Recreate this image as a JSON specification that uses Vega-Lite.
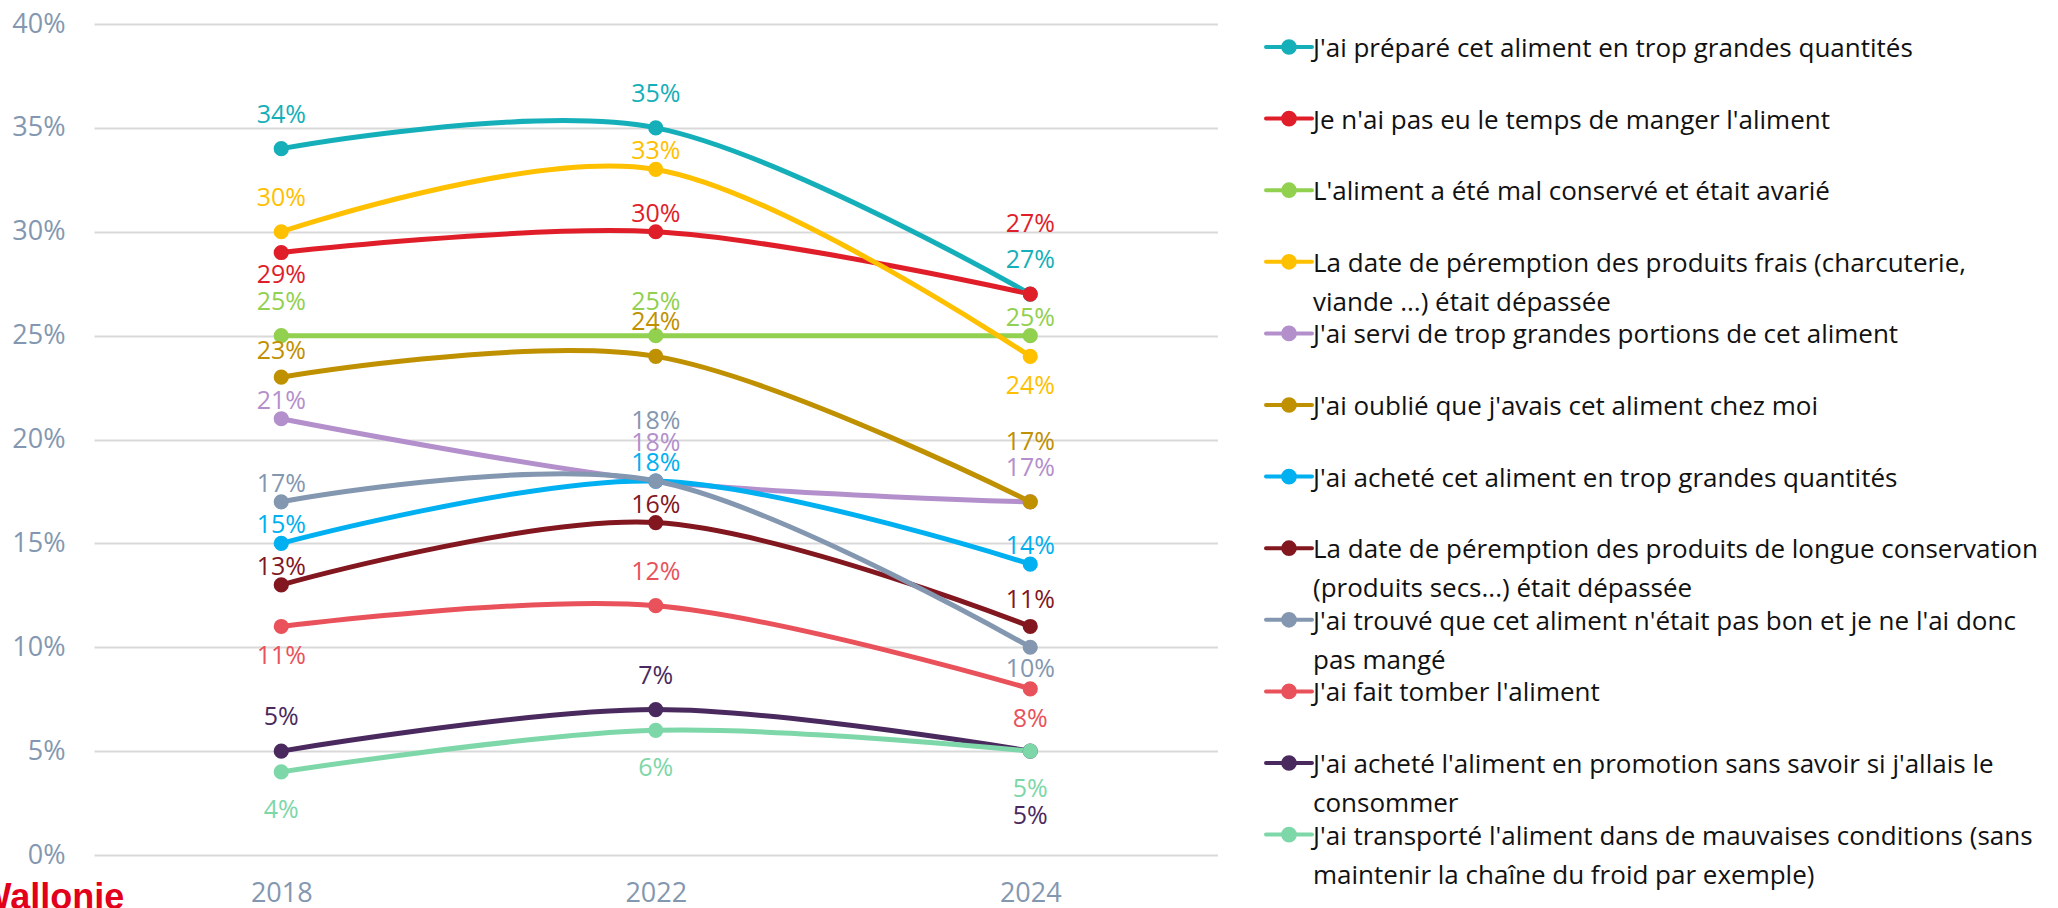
{
  "$schema": "https://vega.github.io/schema/vega-lite/v6.json",
  "width": 1123.5,
  "height": 831,
  "autosize": {"type": "none"},
  "padding": {"left": 94, "top": 24, "right": 840.5, "bottom": 53},
  "config": {
    "view": {"stroke": null},
    "font": "Open Sans",
    "text": {"font": "Open Sans", "fontSize": 25}
  },
  "data": {"values": [
    {"s": "J'ai préparé cet aliment en trop grandes quantités", "id": "a18", "year": "2018", "v": 0.34},
    {"s": "J'ai préparé cet aliment en trop grandes quantités", "id": "a22", "year": "2022", "v": 0.35},
    {"s": "J'ai préparé cet aliment en trop grandes quantités", "id": "a24", "year": "2024", "v": 0.27},
    {"s": "Je n'ai pas eu le temps de manger l'aliment", "id": "b18", "year": "2018", "v": 0.29},
    {"s": "Je n'ai pas eu le temps de manger l'aliment", "id": "b22", "year": "2022", "v": 0.30},
    {"s": "Je n'ai pas eu le temps de manger l'aliment", "id": "b24", "year": "2024", "v": 0.27},
    {"s": "L'aliment a été mal conservé et était avarié", "id": "c18", "year": "2018", "v": 0.25},
    {"s": "L'aliment a été mal conservé et était avarié", "id": "c22", "year": "2022", "v": 0.25},
    {"s": "L'aliment a été mal conservé et était avarié", "id": "c24", "year": "2024", "v": 0.25},
    {"s": "La date de péremption des produits frais (charcuterie, viande ...) était dépassée", "id": "d18", "year": "2018", "v": 0.30},
    {"s": "La date de péremption des produits frais (charcuterie, viande ...) était dépassée", "id": "d22", "year": "2022", "v": 0.33},
    {"s": "La date de péremption des produits frais (charcuterie, viande ...) était dépassée", "id": "d24", "year": "2024", "v": 0.24},
    {"s": "J'ai servi de trop grandes portions de cet aliment", "id": "e18", "year": "2018", "v": 0.21},
    {"s": "J'ai servi de trop grandes portions de cet aliment", "id": "e22", "year": "2022", "v": 0.18},
    {"s": "J'ai servi de trop grandes portions de cet aliment", "id": "e24", "year": "2024", "v": 0.17},
    {"s": "J'ai oublié que j'avais cet aliment chez moi", "id": "f18", "year": "2018", "v": 0.23},
    {"s": "J'ai oublié que j'avais cet aliment chez moi", "id": "f22", "year": "2022", "v": 0.24},
    {"s": "J'ai oublié que j'avais cet aliment chez moi", "id": "f24", "year": "2024", "v": 0.17},
    {"s": "J'ai acheté cet aliment en trop grandes quantités", "id": "g18", "year": "2018", "v": 0.15},
    {"s": "J'ai acheté cet aliment en trop grandes quantités", "id": "g22", "year": "2022", "v": 0.18},
    {"s": "J'ai acheté cet aliment en trop grandes quantités", "id": "g24", "year": "2024", "v": 0.14},
    {"s": "La date de péremption des produits de longue conservation (produits secs...) était dépassée", "id": "h18", "year": "2018", "v": 0.13},
    {"s": "La date de péremption des produits de longue conservation (produits secs...) était dépassée", "id": "h22", "year": "2022", "v": 0.16},
    {"s": "La date de péremption des produits de longue conservation (produits secs...) était dépassée", "id": "h24", "year": "2024", "v": 0.11},
    {"s": "J'ai trouvé que cet aliment n'était pas bon et je ne l'ai donc pas mangé", "id": "i18", "year": "2018", "v": 0.17},
    {"s": "J'ai trouvé que cet aliment n'était pas bon et je ne l'ai donc pas mangé", "id": "i22", "year": "2022", "v": 0.18},
    {"s": "J'ai trouvé que cet aliment n'était pas bon et je ne l'ai donc pas mangé", "id": "i24", "year": "2024", "v": 0.10},
    {"s": "J'ai fait tomber l'aliment", "id": "j18", "year": "2018", "v": 0.11},
    {"s": "J'ai fait tomber l'aliment", "id": "j22", "year": "2022", "v": 0.12},
    {"s": "J'ai fait tomber l'aliment", "id": "j24", "year": "2024", "v": 0.08},
    {"s": "J'ai acheté l'aliment en promotion sans savoir si j'allais le consommer", "id": "k18", "year": "2018", "v": 0.05},
    {"s": "J'ai acheté l'aliment en promotion sans savoir si j'allais le consommer", "id": "k22", "year": "2022", "v": 0.07},
    {"s": "J'ai acheté l'aliment en promotion sans savoir si j'allais le consommer", "id": "k24", "year": "2024", "v": 0.05},
    {"s": "J'ai transporté l'aliment dans de mauvaises conditions (sans maintenir la chaîne du froid par exemple)", "id": "l18", "year": "2018", "v": 0.04},
    {"s": "J'ai transporté l'aliment dans de mauvaises conditions (sans maintenir la chaîne du froid par exemple)", "id": "l22", "year": "2022", "v": 0.06},
    {"s": "J'ai transporté l'aliment dans de mauvaises conditions (sans maintenir la chaîne du froid par exemple)", "id": "l24", "year": "2024", "v": 0.05}
  ]},
  "encoding": {
    "x": {"field": "year", "type": "ordinal", "scale": {"type": "point", "padding": 0.5},
      "axis": {"title": "Wallonie", "titleColor": "#E2001A", "titleFont": "Liberation Sans Narrow, Liberation Sans", "titleFontSize": 36, "titleFontWeight": "bold", "titleAlign": "left", "titleAnchor": "start", "titleBaseline": "top", "titleX": -117, "titleY": 25, "titleAngle": 0,
        "labelAngle": 0, "domain": false, "ticks": false, "grid": false, "labelFontSize": 27, "labelColor": "#8497B0", "labelPadding": 25, "labelFont": "Open Sans"}},
    "y": {"field": "v", "type": "quantitative", "scale": {"domain": [0, 0.4], "nice": false},
      "axis": {"title": null, "values": [0, 0.05, 0.1, 0.15, 0.2, 0.25, 0.3, 0.35, 0.4], "format": ".0%", "domain": false, "ticks": false, "grid": true, "gridColor": "#D9D9D9", "gridWidth": 2, "labelFontSize": 27, "labelColor": "#8497B0", "labelPadding": 29, "labelFont": "Open Sans"}},
    "color": {"field": "s", "type": "nominal",
      "scale": {
        "domain": [
          "J'ai préparé cet aliment en trop grandes quantités",
          "Je n'ai pas eu le temps de manger l'aliment",
          "L'aliment a été mal conservé et était avarié",
          "La date de péremption des produits frais (charcuterie, viande ...) était dépassée",
          "J'ai servi de trop grandes portions de cet aliment",
          "J'ai oublié que j'avais cet aliment chez moi",
          "J'ai acheté cet aliment en trop grandes quantités",
          "La date de péremption des produits de longue conservation (produits secs...) était dépassée",
          "J'ai trouvé que cet aliment n'était pas bon et je ne l'ai donc pas mangé",
          "J'ai fait tomber l'aliment",
          "J'ai acheté l'aliment en promotion sans savoir si j'allais le consommer",
          "J'ai transporté l'aliment dans de mauvaises conditions (sans maintenir la chaîne du froid par exemple)"
        ],
        "range": ["#15AFB9", "#E01E2A", "#92D050", "#FFC000", "#B38FCC", "#BF9000", "#00B0F0", "#82171F", "#8497B0", "#E9525B", "#4A2A5E", "#7DD7A9"]
      },
      "legend": {
        "title": null,
        "orient": "right",
        "offset": 47.5,
        "padding": 10,
        "gridAlign": "all",
        "rowPadding": 3.6,
        "labelFont": "Open Sans",
        "labelFontSize": 26,
        "labelColor": "#111111",
        "labelLimit": 900,
        "labelBaseline": "top",
        "labelOffset": 11,
        "symbolType": "M-2.3,0L2.3,0M-0.585,0A0.585,0.585,0,1,0,0.585,0A0.585,0.585,0,1,0,-0.585,0Z",
        "symbolSize": 400,
        "symbolStrokeWidth": 4,
        "symbolOpacity": 1,
        "labelExpr": "datum.label == \"La date de péremption des produits frais (charcuterie, viande ...) était dépassée\" ? [\"La date de péremption des produits frais (charcuterie,\", \"viande ...) était dépassée\"] : datum.label == \"La date de péremption des produits de longue conservation (produits secs...) était dépassée\" ? [\"La date de péremption des produits de longue conservation\", \"(produits secs...) était dépassée\"] : datum.label == \"J'ai trouvé que cet aliment n'était pas bon et je ne l'ai donc pas mangé\" ? [\"J'ai trouvé que cet aliment n'était pas bon et je ne l'ai donc\", \"pas mangé\"] : datum.label == \"J'ai acheté l'aliment en promotion sans savoir si j'allais le consommer\" ? [\"J'ai acheté l'aliment en promotion sans savoir si j'allais le\", \"consommer\"] : datum.label == \"J'ai transporté l'aliment dans de mauvaises conditions (sans maintenir la chaîne du froid par exemple)\" ? [\"J'ai transporté l'aliment dans de mauvaises conditions (sans\", \"maintenir la chaîne du froid par exemple)\"] : datum.label",
        "encode": {
          "symbols": {"update": {"fill": {"scale": "color", "field": "value"}, "stroke": {"scale": "color", "field": "value"}, "strokeCap": {"value": "round"}, "opacity": {"value": 1}}},
          "labels": {"update": {"dy": {"value": -11}, "lineHeight": {"value": 39}}}
        }
      }
    }
  },
  "layer": [
    {"mark": {"type": "line", "interpolate": "cardinal", "strokeWidth": 5}},
    {"mark": {"type": "point", "filled": true, "size": 230, "opacity": 1}},
    {"transform": [{"filter": {"field": "id", "oneOf": ["e18", "i18", "g18", "h18", "d22", "b22", "g22", "h22", "c24", "g24"]}}],
     "mark": {"type": "text", "dy": -18}, "encoding": {"text": {"field": "v", "format": ".0%"}}},
    {"transform": [{"filter": {"field": "id", "oneOf": ["f18", "h24"]}}],
     "mark": {"type": "text", "dy": -26}, "encoding": {"text": {"field": "v", "format": ".0%"}}},
    {"transform": [{"filter": {"field": "id", "oneOf": ["a18", "d18", "c18", "k18", "a22", "c22", "f22", "j22", "k22", "a24", "e24"]}}],
     "mark": {"type": "text", "dy": -34}, "encoding": {"text": {"field": "v", "format": ".0%"}}},
    {"transform": [{"filter": {"field": "id", "oneOf": ["e22"]}}],
     "mark": {"type": "text", "dy": -38}, "encoding": {"text": {"field": "v", "format": ".0%"}}},
    {"transform": [{"filter": {"field": "id", "oneOf": ["i22", "f24"]}}],
     "mark": {"type": "text", "dy": -60}, "encoding": {"text": {"field": "v", "format": ".0%"}}},
    {"transform": [{"filter": {"field": "id", "oneOf": ["b24"]}}],
     "mark": {"type": "text", "dy": -70}, "encoding": {"text": {"field": "v", "format": ".0%"}}},
    {"transform": [{"filter": {"field": "id", "oneOf": ["i24", "b18"]}}],
     "mark": {"type": "text", "dy": 22}, "encoding": {"text": {"field": "v", "format": ".0%"}}},
    {"transform": [{"filter": {"field": "id", "oneOf": ["j18", "d24", "j24"]}}],
     "mark": {"type": "text", "dy": 30}, "encoding": {"text": {"field": "v", "format": ".0%"}}},
    {"transform": [{"filter": {"field": "id", "oneOf": ["l18", "l22", "l24"]}}],
     "mark": {"type": "text", "dy": 38}, "encoding": {"text": {"field": "v", "format": ".0%"}}},
    {"transform": [{"filter": {"field": "id", "oneOf": ["k24"]}}],
     "mark": {"type": "text", "dy": 65}, "encoding": {"text": {"field": "v", "format": ".0%"}}}
  ]
}
